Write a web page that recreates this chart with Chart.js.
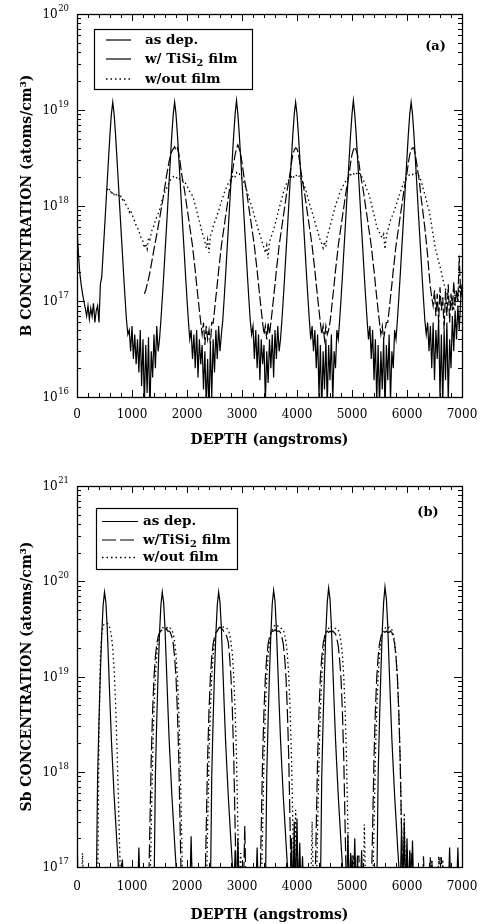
<!DOCTYPE html>
<html><head><meta charset="utf-8">
<style>
html,body{margin:0;padding:0;background:#fff;width:481px;height:924px;overflow:hidden;}
canvas{display:block;position:absolute;left:0;}
#warn{position:absolute;left:200px;top:300px;color:red;font:20px sans-serif;}
</style>
<script src="https://cdn.jsdelivr.net/npm/chart.js@4.4.0/dist/chart.umd.min.js"></script>
</head><body>
<canvas id="ca" width="481" height="462" style="top:0px"></canvas>
<canvas id="cb" width="481" height="462" style="top:462px"></canvas>
<div id="warn"></div>
<script>
// ---------- shared depth axis (angstroms) ----------
const depth = [
0,25,50,75,100,125,150,175,200,225,250,275,300,325,350,375,400,425,450,475,
500,525,550,575,600,625,650,675,700,725,750,775,800,825,850,875,900,925,950,975,
1000,1025,1050,1075,1100,1125,1150,1175,1200,1225,1250,1275,1300,1325,1350,1375,1400,1425,1450,1475,
1500,1525,1550,1575,1600,1625,1650,1675,1700,1725,1750,1775,1800,1825,1850,1875,1900,1925,1950,1975,
2000,2025,2050,2075,2100,2125,2150,2175,2200,2225,2250,2275,2300,2325,2350,2375,2400,2425,2450,2475,
2500,2525,2550,2575,2600,2625,2650,2675,2700,2725,2750,2775,2800,2825,2850,2875,2900,2925,2950,2975,
3000,3025,3050,3075,3100,3125,3150,3175,3200,3225,3250,3275,3300,3325,3350,3375,3400,3425,3450,3475,
3500,3525,3550,3575,3600,3625,3650,3675,3700,3725,3750,3775,3800,3825,3850,3875,3900,3925,3950,3975,
4000,4025,4050,4075,4100,4125,4150,4175,4200,4225,4250,4275,4300,4325,4350,4375,4400,4425,4450,4475,
4500,4525,4550,4575,4600,4625,4650,4675,4700,4725,4750,4775,4800,4825,4850,4875,4900,4925,4950,4975,
5000,5025,5050,5075,5100,5125,5150,5175,5200,5225,5250,5275,5300,5325,5350,5375,5400,5425,5450,5475,
5500,5525,5550,5575,5600,5625,5650,5675,5700,5725,5750,5775,5800,5825,5850,5875,5900,5925,5950,5975,
6000,6025,6050,6075,6100,6125,6150,6175,6200,6225,6250,6275,6300,6325,6350,6375,6400,6425,6450,6475,
6500,6525,6550,6575,6600,6625,6650,6675,6700,6725,6750,6775,6800,6825,6850,6875,6900,6925,6950,6975,
7000];

const xTickLabels = [0,1000,2000,3000,4000,5000,6000,7000];
const yTicksA = [1e16,1e17,1e18,1e19,1e20];
const yTicksB = [1e17,1e18,1e19,1e20,1e21];
const labelsA = ['as dep.','w/ TiSi2 film','w/out film'];
const labelsB = ['as dep.','w/TiSi2 film','w/out film'];

// ---------- (a) Boron, atoms/cm3 (rows of 500 A) ----------
const aAsDepRows = [
[6e17,3.2e17,2e17,1.5e17,1.2e17,1e17,8.5e16,7e16,9e16,6.5e16,8.5e16,7e16,9.5e16,6e16,8e16,9e16,6e16,1.5e17,1.8e17,3.2e17],
[5.6e17,1e18,1.8e18,3.2e18,5.6e18,9e18,1.2e19,9e18,5.6e18,3.2e18,1.8e18,1e18,5.6e17,3.2e17,1.8e17,1.05e17,6.3e16,4.5e16,5e16,3e16],
[5.5e16,2.5e16,4.5e16,2.2e16,4e16,1.8e16,5e16,1.3e16,4e16,8e15,3.5e16,1.1e16,4.2e16,7e15,3e16,1.6e16,4.5e16,2e16,5.5e16,3e16],
[4e16,6.3e16,1.05e17,1.8e17,3.2e17,5.6e17,1e18,1.8e18,3.2e18,5.6e18,9e18,1.2e19,9e18,5.6e18,3.2e18,1.8e18,1e18,5.6e17,3.2e17,1.8e17],
[1.05e17,6.3e16,4e16,5e16,2.5e16,4.5e16,2e16,5e16,1.6e16,4e16,2.2e16,3.5e16,1.2e16,3e16,8e15,2.5e16,7e15,3.5e16,1e16,4e16],
[1.8e16,5e16,2.5e16,5.5e16,3e16,4.5e16,6.3e16,1.05e17,1.8e17,3.2e17,5.6e17,1e18,1.8e18,3.2e18,5.6e18,9e18,1.25e19,9e18,5.6e18,3.2e18],
[1.8e18,1e18,5.6e17,3.2e17,1.8e17,1.05e17,6.3e16,4.5e16,5.5e16,2.5e16,5e16,2e16,4.5e16,1.5e16,4e16,2.2e16,3.5e16,9e15,3e16,1.4e16],
[4e16,2e16,4.5e16,1.6e16,5e16,2.5e16,5.5e16,3e16,4e16,6.3e16,1.05e17,1.8e17,3.2e17,5.6e17,1e18,1.8e18,3.2e18,5.6e18,9e18,1.2e19],
[9e18,5.6e18,3.2e18,1.8e18,1e18,5.6e17,3.2e17,1.8e17,1.05e17,6.3e16,4e16,5.5e16,3e16,5e16,2e16,4.5e16,1e16,3.5e16,7e15,3e16],
[1.2e16,4e16,8e15,3.5e16,1.5e16,4.5e16,9e15,3e16,2e16,5e16,4e16,6.3e16,1.05e17,1.8e17,3.2e17,5.6e17,1e18,1.8e18,3.2e18,5.6e18],
[9e18,1.25e19,9e18,5.6e18,3.2e18,1.8e18,1e18,5.6e17,3.2e17,1.8e17,1.05e17,6.3e16,4e16,5.5e16,2.5e16,5e16,1.5e16,4e16,9e15,3.5e16],
[8e15,3e16,1.2e16,4e16,7e15,3.5e16,1.5e16,4.5e16,9e15,3e16,2e16,5e16,4e16,6.3e16,1.05e17,1.8e17,3.2e17,5.6e17,1e18,1.8e18],
[3.2e18,5.6e18,9e18,1.2e19,9e18,5.6e18,3.2e18,1.8e18,1e18,5.6e17,3.2e17,1.8e17,1.05e17,6.3e16,4.5e16,6e16,3e16,5.5e16,2e16,6e16],
[1.5e16,5e16,2.5e16,6.5e16,1e16,4.5e16,8e15,5e16,1.5e16,6e16,9e15,4e16,2e16,7e16,3e16,8e16,4e16,9e16,5e16,1e17],
[1.5e17]];

const aTiSiRows = [
[null,null,null,null,null,null,null,null,null,null,null,null,null,null,null,null,null,null,null,null],
[null,null,null,null,null,null,null,null,null,null,null,null,null,null,null,null,null,null,null,null],
[null,null,null,null,null,null,null,null,null,1.2e17,1.3e17,1.5e17,1.7e17,2e17,2.4e17,2.9e17,3.5e17,4.2e17,5e17,6e17],
[7.2e17,8.8e17,1.05e18,1.3e18,1.6e18,2e18,2.4e18,2.9e18,3.3e18,3.7e18,3.9e18,4.1e18,3.8e18,4e18,3.5e18,2.8e18,2.2e18,1.8e18,1.5e18,1.2e18],
[9.5e17,7.6e17,6e17,4.8e17,3.8e17,2.8e17,2.1e17,1.5e17,1.1e17,8e16,6e16,4.5e16,6e16,3.5e16,5.5e16,4e16,5e16,3.5e16,6e16,5.9e16],
[8e16,1.1e17,1.5e17,2.1e17,2.8e17,3.8e17,4.8e17,6e17,7.6e17,9.5e17,1.2e18,1.5e18,1.8e18,2.2e18,2.8e18,3.4e18,3.9e18,4.3e18,3.9e18,3.5e18],
[2.8e18,2.2e18,1.8e18,1.5e18,1.2e18,9.5e17,7.6e17,6e17,4.8e17,3.8e17,2.8e17,2.1e17,1.5e17,1.1e17,8e16,6e16,4.5e16,5.5e16,4e16,6e16],
[4.5e16,6e16,8e16,1.1e17,1.5e17,2.1e17,2.8e17,3.8e17,4.8e17,6e17,7.6e17,9.5e17,1.2e18,1.5e18,1.8e18,2.2e18,2.8e18,3.4e18,3.8e18,4e18],
[3.9e18,3.5e18,2.8e18,2.2e18,1.8e18,1.5e18,1.2e18,9.5e17,7.6e17,6e17,4.8e17,3.8e17,2.8e17,2.1e17,1.5e17,1.1e17,8e16,6e16,4.5e16,5.5e16],
[4e16,5.5e16,4.5e16,5e16,6e16,8e16,1.1e17,1.5e17,2.1e17,2.8e17,3.8e17,4.8e17,6e17,7.6e17,9.5e17,1.2e18,1.5e18,1.8e18,2.2e18,2.8e18],
[3.4e18,3.8e18,4.1e18,3.8e18,3.4e18,2.8e18,2.2e18,1.8e18,1.5e18,1.2e18,9.5e17,7.6e17,6e17,4.8e17,3.8e17,2.8e17,2.1e17,1.5e17,1.1e17,8e16],
[6e16,4.5e16,5.5e16,4e16,5e16,6e16,6e16,8e16,1.1e17,1.5e17,2.1e17,2.8e17,3.8e17,4.8e17,6e17,7.6e17,9.5e17,1.2e18,1.5e18,1.8e18],
[2.2e18,2.8e18,3.4e18,3.8e18,4e18,4e18,3.4e18,2.8e18,2.2e18,1.8e18,1.3e18,1e18,7.6e17,5.8e17,4.2e17,3e17,2e17,1.4e17,1.1e17,9e16],
[1.3e17,7e16,1.2e17,6e16,1.4e17,8e16,1.1e17,5e16,1.3e17,7e16,1.5e17,6e16,1.2e17,8e16,1.6e17,9e16,1.3e17,1e17,3e17,1.2e17],
[1.4e17]];

const aNoFilmRows = [
[null,null,null,null,null,null,null,null,null,null,null,null,null,null,null,null,null,null,null,null],
[null,null,1.5e18,1.4e18,1.5e18,1.3e18,1.4e18,1.3e18,1.35e18,1.25e18,1.3e18,1.2e18,1.25e18,1.15e18,1.2e18,1.05e18,1e18,9.5e17,8.5e17,9e17],
[8e17,7.5e17,6.8e17,6.2e17,5.8e17,5.5e17,4.8e17,4.5e17,4.2e17,3.6e17,4e17,3.5e17,4.6e17,4.4e17,5.2e17,5.8e17,6.2e17,7e17,7.6e17,8.2e17],
[9e17,1e18,1.15e18,1.25e18,1.4e18,1.5e18,1.6e18,1.75e18,1.85e18,1.9e18,2e18,1.95e18,2e18,1.9e18,1.95e18,1.85e18,1.9e18,1.8e18,1.75e18,1.7e18],
[1.6e18,1.5e18,1.4e18,1.35e18,1.25e18,1.15e18,1e18,9e17,7.8e17,6.8e17,6e17,5.2e17,4.8e17,4.2e17,3.6e17,4.4e17,3.2e17,4.8e17,5.2e17,6e17],
[6.6e17,7.2e17,8e17,8.8e17,9.8e17,1.1e18,1.2e18,1.35e18,1.45e18,1.6e18,1.7e18,1.8e18,1.9e18,2e18,2.1e18,2e18,2.2e18,2.1e18,2.15e18,2e18],
[1.9e18,1.8e18,1.65e18,1.5e18,1.35e18,1.2e18,1.1e18,9.8e17,8.8e17,7.8e17,7e17,6.2e17,5.5e17,5e17,4.5e17,4e17,3.6e17,3.2e17,3.8e17,2.8e17],
[4.2e17,4.6e17,5.1e17,5.6e17,6.3e17,7.2e17,8.2e17,9.4e17,1.05e18,1.2e18,1.35e18,1.5e18,1.65e18,1.75e18,1.85e18,1.95e18,2e18,1.9e18,2.05e18,2e18],
[2.1e18,2e18,2.05e18,1.9e18,1.8e18,1.65e18,1.5e18,1.35e18,1.2e18,1.05e18,9.5e17,8.5e17,7.6e17,6.8e17,6e17,5.4e17,4.8e17,4.3e17,4e17,3.6e17],
[4.2e17,3.7e17,4.8e17,5.4e17,6e17,6.8e17,7.8e17,8.8e17,1e18,1.1e18,1.2e18,1.35e18,1.45e18,1.55e18,1.65e18,1.75e18,1.85e18,1.95e18,2e18,2.1e18],
[2.05e18,2.15e18,2.1e18,2.2e18,2.1e18,2.2e18,2.1e18,2e18,1.9e18,1.75e18,1.6e18,1.45e18,1.35e18,1.2e18,1.05e18,9.2e17,8e17,7e17,6e17,5.6e17],
[5.2e17,4.8e17,4.6e17,5e17,3.5e17,4.8e17,5.5e17,6.2e17,7e17,7.6e17,8.3e17,9e17,1e18,1.1e18,1.25e18,1.35e18,1.5e18,1.65e18,1.8e18,1.9e18],
[2e18,2.05e18,2.1e18,2.15e18,2.1e18,2.2e18,2.15e18,2.2e18,2.1e18,2e18,1.85e18,1.65e18,1.45e18,1.3e18,1.15e18,1e18,9e17,7.5e17,6e17,5e17],
[4e17,3.4e17,3e17,2.6e17,2.3e17,2e17,1.7e17,1.5e17,1.35e17,1.2e17,1.1e17,1e17,9e16,1.1e17,8e16,1.2e17,1.3e17,1e17,1.5e17,1.1e17],
[1.3e17]];

// ---------- (b) Antimony, atoms/cm3 ----------
const bAsDepRows = [
[2.2e17,5e16,5e16,5e16,5e16,5e16,5e16,5e16,5e16,5e16,5e16,5e16,5e16,5e16,5e16,9e17,3.5e18,1.1e19,2.8e19,5.6e19],
[7.7e19,6e19,3.2e19,1.3e19,5.2e18,2.2e18,1.1e18,5.6e17,3.2e17,1.8e17,1.05e17,5e16,5e16,1.2e17,5e16,5e16,5e16,5e16,5e16,5e16],
[5e16,5e16,5e16,5e16,5e16,1.6e17,5e16,5e16,5e16,5e16,5e16,5e16,5e16,5e16,5e16,5e16,5e16,9e17,3.5e18,1.1e19],
[2.8e19,5.6e19,7.7e19,6e19,3.2e19,1.3e19,5.2e18,2.2e18,1.1e18,5.6e17,3.2e17,1.8e17,1.05e17,5e16,5e16,5e16,5e16,5e16,5e16,5e16],
[5e16,5e16,5e16,2.1e17,5e16,5e16,5e16,5e16,5e16,5e16,5e16,5e16,5e16,5e16,5e16,5e16,5e16,5e16,9e17,3.5e18],
[1.1e19,2.8e19,5.6e19,7.7e19,6e19,3.2e19,1.3e19,5.2e18,2.2e18,1.1e18,5.6e17,3.2e17,1.8e17,1.05e17,5e16,1.5e17,5e16,2e17,5e16,5e16],
[5e16,5e16,5e16,5e16,5e16,5e16,5e16,5e16,5e16,5e16,5e16,1.6e17,5e16,5e16,5e16,5e16,5e16,5e16,9e17,3.5e18],
[1.1e19,2.8e19,5.8e19,8e19,6.2e19,3.2e19,1.3e19,5.2e18,2.2e18,1.1e18,5.6e17,3.2e17,1.8e17,1.05e17,5e16,5e16,2e17,5e16,3e17,5e16],
[3.2e17,5e16,1.8e17,5e16,1.3e17,5e16,5e16,5e16,5e16,5e16,5e16,5e16,5e16,5e16,5e16,5e16,5e16,5e16,9e17,3.5e18],
[1.1e19,3e19,6e19,8.5e19,6.5e19,3.4e19,1.3e19,5.2e18,2.2e18,1.1e18,5.6e17,3.2e17,1.8e17,1.05e17,5e16,5e16,5e16,2.2e17,5e16,1.4e17],
[5e16,5e16,2e17,5e16,1.3e17,5e16,5e16,1.5e17,5e16,5e16,5e16,5e16,5e16,5e16,5e16,5e16,5e16,5e16,5e16,9e17],
[3.5e18,1.1e19,3e19,6e19,8.7e19,6.5e19,3.4e19,1.3e19,5.2e18,2.2e18,1.1e18,5.6e17,3.2e17,1.8e17,1.05e17,5e16,2.5e17,5e16,3e17,5e16],
[2e17,5e16,1.5e17,5e16,1.9e17,5e16,5e16,5e16,5e16,5e16,5e16,5e16,5e16,5e16,5e16,5e16,5e16,5e16,5e16,5e16],
[5e16,5e16,5e16,5e16,5e16,5e16,5e16,5e16,5e16,5e16,5e16,1.6e17,5e16,5e16,5e16,5e16,5e16,1.6e17,5e16,5e16],
[5e16]];

const bTiSiRows = [
[null,null,null,null,null,null,null,null,null,null,null,null,null,null,null,null,null,null,null,null],
[null,null,null,null,null,null,null,null,null,null,null,null,null,null,null,null,null,null,null,null],
[5e16,5e16,5e16,5e16,5e16,5e16,5e16,5e16,5e16,5e16,5e16,5e16,5e16,2.6e17,1.4e18,4.4e18,9.8e18,1.6e19,2.2e19,2.6e19],
[2.9e19,3e19,3.1e19,3.2e19,3.1e19,3.2e19,3e19,3e19,2.9e19,2.6e19,2.2e19,1.6e19,9.8e18,4.4e18,1.4e18,2.6e17,5e16,5e16,5e16,5e16],
[5e16,5e16,5e16,5e16,5e16,5e16,5e16,5e16,5e16,5e16,5e16,5e16,5e16,5e16,2.6e17,1.4e18,4.4e18,9.8e18,1.6e19,2.2e19],
[2.6e19,2.9e19,3e19,3.2e19,3.3e19,3.2e19,3.1e19,2.9e19,2.8e19,2.6e19,2.3e19,1.6e19,9.8e18,4.4e18,1.4e18,2.6e17,5e16,5e16,5e16,5e16],
[5e16,5e16,2.7e17,5e16,5e16,5e16,5e16,5e16,5e16,5e16,5e16,5e16,5e16,5e16,2.6e17,1.4e18,4.4e18,9.8e18,1.6e19,2.2e19],
[2.6e19,2.9e19,3e19,3e19,3.1e19,3e19,3e19,3e19,2.9e19,2.6e19,2.2e19,1.6e19,9.8e18,4.4e18,1.4e18,2.6e17,5e16,5e16,1.4e17,5e16],
[5e16,5e16,5e16,5e16,5e16,5e16,5e16,5e16,5e16,5e16,5e16,5e16,5e16,5e16,2.6e17,1.4e18,4.4e18,9.8e18,1.6e19,2.2e19],
[2.6e19,2.9e19,3e19,2.9e19,3e19,2.9e19,3e19,2.9e19,2.8e19,2.5e19,2.1e19,1.5e19,9.5e18,4.4e18,1.4e18,2.6e17,5e16,5e16,5e16,5e16],
[1.3e17,1.3e17,1.35e17,5e16,1.3e17,1.3e17,5e16,5e16,5e16,5e16,5e16,5e16,5e16,5e16,5e16,2.6e17,1.4e18,4.4e18,9.8e18,1.6e19],
[2.2e19,2.6e19,2.9e19,3e19,2.9e19,3e19,2.9e19,2.9e19,3e19,2.9e19,2.6e19,2.2e19,1.6e19,9.8e18,4.4e18,1.4e18,2.6e17,5e16,1.6e17,5e16],
[1.5e17,5e16,5e16,1.4e17,5e16,5e16,5e16,5e16,5e16,5e16,5e16,5e16,1.3e17,5e16,5e16,5e16,5e16,1.25e17,1.25e17,5e16],
[5e16,5e16,5e16,5e16,1.25e17,1.25e17,5e16,5e16,5e16,5e16,5e16,5e16,5e16,5e16,5e16,5e16,5e16,5e16,5e16,5e16],
[5e16]];

const bNoFilmRows = [
[5e16,5e16,5e16,5e16,1.4e17,5e16,5e16,5e16,5e16,5e16,5e16,5e16,5e16,5e16,5e16,5e16,2.5e18,1.6e19,2.8e19,3.4e19],
[3.6e19,3.6e19,3.6e19,3.5e19,3.2e19,2.7e19,2e19,1.2e19,5.5e18,2e18,6e17,1.6e17,5e16,5e16,5e16,5e16,5e16,5e16,5e16,5e16],
[5e16,5e16,5e16,5e16,5e16,5e16,5e16,5e16,5e16,5e16,5e16,5e16,5e16,5e16,2.6e17,1.4e18,4.5e18,1e19,1.7e19,2.3e19],
[2.8e19,3.1e19,3.2e19,3.3e19,3.3e19,3.3e19,3.2e19,3.3e19,3.2e19,3.1e19,2.8e19,2.3e19,1.7e19,1e19,4.5e18,1.4e18,2.6e17,5e16,5e16,5e16],
[5e16,5e16,5e16,1.4e17,5e16,5e16,5e16,5e16,5e16,5e16,5e16,5e16,5e16,5e16,5e16,2.6e17,1.4e18,4.5e18,1e19,1.7e19],
[2.3e19,2.8e19,3.1e19,3.2e19,3.3e19,3.3e19,3.3e19,3.3e19,3.2e19,3.2e19,3.1e19,2.8e19,2.3e19,1.7e19,1e19,4.5e18,1.4e18,2.6e17,5e16,1.4e17],
[5e16,5e16,5e16,5e16,5e16,5e16,5e16,5e16,5e16,5e16,5e16,5e16,5e16,5e16,5e16,2.6e17,1.4e18,4.5e18,1e19,1.7e19],
[2.3e19,2.8e19,3.1e19,3.3e19,3.5e19,3.4e19,3.4e19,3.3e19,3.2e19,3.2e19,3.1e19,2.8e19,2.3e19,1.7e19,1e19,4.5e18,1.4e18,2.6e17,5e16,4e17],
[1.5e17,5e16,5e16,5e16,5e16,5e16,5e16,5e16,5e16,5e16,5e16,3e17,5e16,5e16,5e16,2.6e17,1.4e18,4.5e18,1e19,1.7e19],
[2.3e19,2.8e19,3.1e19,3.2e19,3.4e19,3.3e19,3.3e19,3.2e19,3.2e19,3.1e19,3.1e19,2.8e19,2.3e19,1.7e19,1e19,4.5e18,1.4e18,2.6e17,5e16,5e16],
[5e16,1.3e17,5e16,5e16,5e16,5e16,5e16,5e16,5e16,2.8e17,5e16,5e16,5e16,5e16,5e16,5e16,2.6e17,1.4e18,4.5e18,1e19],
[1.7e19,2.3e19,2.8e19,3.1e19,3.2e19,3.3e19,3.2e19,3.3e19,3.2e19,3.1e19,2.8e19,2.3e19,1.7e19,1e19,4.5e18,1.4e18,2.6e17,5e16,3.7e17,5e16],
[5e16,5e16,5e16,5e16,5e16,5e16,5e16,5e16,5e16,5e16,5e16,5e16,5e16,5e16,5e16,5e16,5e16,5e16,1.2e17,5e16],
[5e16,5e16,5e16,1.3e17,5e16,5e16,1.2e17,5e16,5e16,5e16,5e16,5e16,5e16,5e16,5e16,5e16,5e16,5e16,5e16,5e16],
[5e16]];

// ---------- build ----------
const FONT = "'DejaVu Serif', serif";
const warn = [];
function flat(rows, name){
  rows.forEach((r,i)=>{ if(i<rows.length-1 && r.length!==20) warn.push(name+' row '+i+' len '+r.length); });
  const f = rows.flat();
  if (f.length !== depth.length) warn.push(name+' total '+f.length);
  return f;
}
const aAsDep = flat(aAsDepRows,'aAsDep'), aTiSi = flat(aTiSiRows,'aTiSi'), aNoFilm = flat(aNoFilmRows,'aNoFilm');
const bAsDep = flat(bAsDepRows,'bAsDep'), bTiSi = flat(bTiSiRows,'bTiSi'), bNoFilm = flat(bNoFilmRows,'bNoFilm');
if (warn.length) document.getElementById('warn').textContent = warn.join(' | ');

function pts(vals){ return vals.map((v,i)=>({x:depth[i], y:v})); }

function drawRich(ctx, label, x, y, size){
  ctx.textAlign='left'; ctx.textBaseline='middle';
  ctx.font = 'bold '+size+'px '+FONT;
  const m = label.match(/^(.*TiSi)2(.*)$/);
  if(!m){ ctx.fillText(label, x, y); return; }
  ctx.fillText(m[1], x, y); x += ctx.measureText(m[1]).width;
  ctx.font = 'bold '+(size*0.72)+'px '+FONT;
  ctx.fillText('2', x+0.3, y+4); x += ctx.measureText('2').width + 0.6;
  ctx.font = 'bold '+size+'px '+FONT;
  ctx.fillText(m[2], x, y);
}

function decor(cfg){
  return {
    id:'decor',
    afterDraw(chart){
      const ctx=chart.ctx, a=chart.chartArea, xs=chart.scales.x, ys=chart.scales.y;
      ctx.save();
      ctx.setLineDash([]);
      ctx.strokeStyle='#000';
      // ticks (inward, all four sides)
      ctx.lineWidth=1;
      ctx.beginPath();
      const xMax = xTickLabels[xTickLabels.length-1];
      for(let v=0; v<=xMax; v+=200){
        const px=Math.round(xs.getPixelForValue(v))+0.5;
        const L = (v%1000===0)?7:4;
        ctx.moveTo(px,a.bottom); ctx.lineTo(px,a.bottom-L);
        ctx.moveTo(px,a.top); ctx.lineTo(px,a.top+L);
      }
      const yt = cfg.yTicks, yTop = yt[yt.length-1];
      yt.forEach(dec=>{
        for(let m=1;m<=9;m++){
          const v=dec*m; if(v>yTop*1.0001) break;
          const py=Math.round(ys.getPixelForValue(v))+0.5;
          const L=(m===1)?8:4;
          ctx.moveTo(a.left,py); ctx.lineTo(a.left+L,py);
          ctx.moveTo(a.right,py); ctx.lineTo(a.right-L,py);
        }
      });
      ctx.stroke();
      // frame
      ctx.lineWidth=1.3;
      ctx.strokeRect(Math.round(a.left)+0.5, Math.round(a.top)+0.5, Math.round(a.right-a.left), Math.round(a.bottom-a.top));
      // y tick labels 10^n
      ctx.fillStyle='#000';
      yt.forEach(v=>{
        const e=String(Math.round(Math.log10(v)));
        const py=ys.getPixelForValue(v);
        ctx.textBaseline='middle'; ctx.textAlign='right';
        ctx.font='8.5px '+FONT;
        const ew=ctx.measureText(e).width;
        ctx.fillText(e, 69, py-5);
        ctx.font='12px '+FONT;
        ctx.fillText('10', 69-ew-0.5, py+1);
      });
      // legend
      const L=cfg.legend;
      ctx.fillStyle='#fff';
      ctx.fillRect(L.x0, L.y0, L.x1-L.x0, L.y1-L.y0);
      ctx.strokeStyle='#000'; ctx.lineWidth=1.2;
      ctx.strokeRect(L.x0+0.5, L.y0+0.5, L.x1-L.x0, L.y1-L.y0);
      ctx.fillStyle='#000';
      chart.data.datasets.forEach((ds,i)=>{
        const y=L.rows[i];
        const dash = (L.dash && L.dash[i]) ? L.dash[i] : (ds.borderDash||[]);
        ctx.setLineDash(dash);
        ctx.lineWidth=ds.borderWidth;
        ctx.beginPath(); ctx.moveTo(L.lx0, y); ctx.lineTo(L.lx1, y); ctx.stroke();
        ctx.setLineDash([]);
        drawRich(ctx, ds.label, L.tx, y, 13.5);
      });
      // panel label
      ctx.font='bold 13px '+FONT; ctx.textAlign='center'; ctx.textBaseline='middle';
      ctx.fillText(cfg.panel, cfg.panelX, cfg.panelY);
      ctx.restore();
    }
  };
}

function makeChart(id, cfg){
  return new Chart(document.getElementById(id), {
    type:'line',
    data:{datasets:[
      {label:cfg.labels[0], data:pts(cfg.s[0]), borderColor:'#000', borderWidth:1.2, borderDash:[], pointRadius:0},
      {label:cfg.labels[1], data:pts(cfg.s[1]), borderColor:'#000', borderWidth:1.2, borderDash:cfg.dash2, pointRadius:0},
      {label:cfg.labels[2], data:pts(cfg.s[2]), borderColor:'#000', borderWidth:1.3, borderDash:[1.5,3], pointRadius:0}
    ]},
    options:{
      responsive:false, animation:false, devicePixelRatio:1,
      layout:{padding:{left:0,right:19,top:cfg.padTop,bottom:0}},
      plugins:{legend:{display:false}, tooltip:{enabled:false}},
      elements:{line:{tension:0}, point:{radius:0}},
      scales:{
        x:{type:'linear', min:0, max:7000,
           grid:{display:false, drawTicks:false}, border:{display:false},
           afterBuildTicks:s=>{ s.ticks = xTickLabels.map(v=>({value:v})); },
           afterFit:s=>{ s.height=cfg.xH; s.paddingLeft=0; s.paddingRight=0; },
           ticks:{font:{family:FONT,size:12}, color:'#000', padding:cfg.xPad, maxRotation:0, autoSkip:false, callback:v=>String(v)},
           title:{display:true, text:'DEPTH (angstroms)', color:'#000', font:{family:FONT,size:14,weight:'bold'}, padding:{top:0,bottom:cfg.xTitlePad}}},
        y:{type:'logarithmic', min:cfg.yTicks[0], max:cfg.yTicks[cfg.yTicks.length-1],
           grid:{display:false, drawTicks:false}, border:{display:false},
           afterBuildTicks:s=>{ s.ticks = cfg.yTicks.map(v=>({value:v})); },
           afterFit:s=>{ s.width=77; s.paddingTop=0; s.paddingBottom=0; },
           ticks:{display:false},
           title:{display:true, text:cfg.yTitle, color:'#000', font:{family:FONT,size:14,weight:'bold'}, padding:{top:19,bottom:0}}}
      }
    },
    plugins:[decor(cfg)]
  });
}

makeChart('ca', {
  s:[aAsDep,aTiSi,aNoFilm], labels:labelsA, dash2:[10,3],
  yTicks:yTicksA, yTitle:'B CONCENTRATION (atoms/cm³)',
  padTop:14, xH:65, xPad:11, xTitlePad:13.6,
  legend:{x0:94,y0:29,x1:252,y1:89,rows:[40,59,79],lx0:106,lx1:131,tx:145,dash:[null,[26,3],null]},
  panel:'(a)', panelX:435.5, panelY:47
});
makeChart('cb', {
  s:[bAsDep,bTiSi,bNoFilm], labels:labelsB, dash2:[14,4],
  yTicks:yTicksB, yTitle:'Sb CONCENTRATION (atoms/cm³)',
  padTop:24, xH:57, xPad:13, xTitlePad:0.6,
  legend:{x0:96,y0:46,x1:237,y1:107,rows:[59.5,78,95.5],lx0:102,lx1:138,tx:143},
  panel:'(b)', panelX:428, panelY:51
});
</script>
</body></html>
